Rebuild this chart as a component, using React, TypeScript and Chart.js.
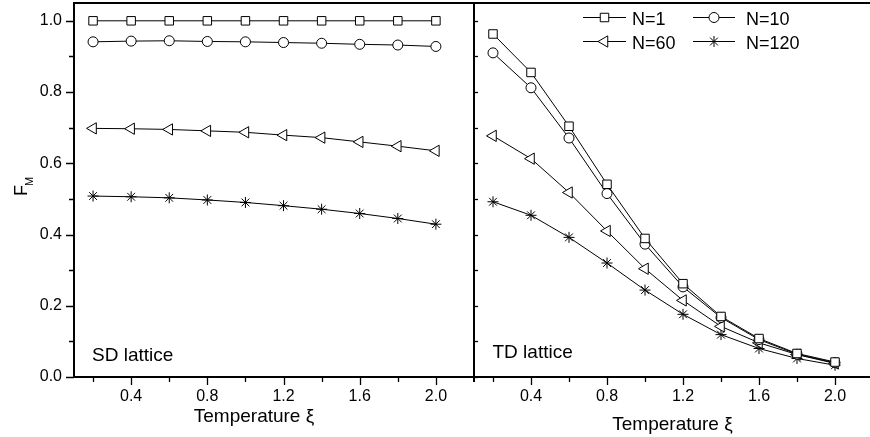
import React, { useEffect, useRef } from "react";
import { Chart, registerables } from "chart.js";
import { drawPoint } from "chart.js/helpers";

Chart.register(...registerables);

// ---------- data ----------
const temps = [0.2, 0.4, 0.6, 0.8, 1.0, 1.2, 1.4, 1.6, 1.8, 2.0];

const sdN1 = [1.0, 1.0, 1.0, 1.0, 1.0, 1.0, 1.0, 1.0, 1.0, 1.0];
const sdN10 = [0.941, 0.943, 0.944, 0.942, 0.941, 0.939, 0.937, 0.934, 0.932, 0.928];
const sdN60 = [0.698, 0.697, 0.695, 0.691, 0.687, 0.679, 0.672, 0.66, 0.648, 0.635];
const sdN120 = [0.508, 0.506, 0.503, 0.497, 0.49, 0.481, 0.471, 0.459, 0.445, 0.429];

const tdN1 = [0.963, 0.855, 0.704, 0.541, 0.389, 0.262, 0.17, 0.108, 0.066, 0.042];
const tdN10 = [0.91, 0.812, 0.671, 0.515, 0.373, 0.253, 0.167, 0.105, 0.064, 0.04];
const tdN60 = [0.677, 0.613, 0.518, 0.41, 0.304, 0.215, 0.142, 0.096, 0.063, 0.038];
const tdN120 = [0.492, 0.454, 0.392, 0.32, 0.244, 0.176, 0.119, 0.08, 0.052, 0.033];

const seriesLabels = ["N=1", "N=10", "N=60", "N=120"];

const xMajorTicks = [0.4, 0.8, 1.2, 1.6, 2.0];
const xMinorTicks = [0.2, 0.6, 1.0, 1.4, 1.8];
const yMajorTicks = [0.0, 0.2, 0.4, 0.6, 0.8, 1.0];
const yMinorTicks = [0.1, 0.3, 0.5, 0.7, 0.9];
const yAllTicks = [0.0, 0.1, 0.2, 0.3, 0.4, 0.5, 0.6, 0.7, 0.8, 0.9, 1.0];

const X_MIN = 0.1;
const X_MAX = 2.2;
const Y_MIN = 0;
const Y_MAX = 1.05;

// ---------- styles ----------
const FONT = '"Liberation Sans", Arial, Helvetica, sans-serif';
const markers = [
  { pointStyle: "rect", rotation: 0, radius: 6 },
  { pointStyle: "circle", rotation: 0, radius: 5 },
  { pointStyle: "triangle", rotation: -90, radius: 6.5 },
  { pointStyle: "star", rotation: 0, radius: 5.5 },
];

function makeDatasets(arrs: number[][]) {
  return arrs.map((arr, k) => ({
    label: seriesLabels[k],
    data: temps.map((t, i) => ({ x: t, y: arr[i] })),
    borderColor: "#000",
    borderWidth: 1,
    backgroundColor: "#fff",
    pointBackgroundColor: "#fff",
    pointBorderColor: "#000",
    pointBorderWidth: 1,
    pointStyle: markers[k].pointStyle,
    pointRotation: markers[k].rotation,
    pointRadius: markers[k].radius,
    tension: 0,
  }));
}

function line(ctx: CanvasRenderingContext2D, x1: number, y1: number, x2: number, y2: number, w: number) {
  ctx.save();
  ctx.strokeStyle = "#000";
  ctx.lineWidth = w;
  ctx.beginPath();
  ctx.moveTo(x1, y1);
  ctx.lineTo(x2, y2);
  ctx.stroke();
  ctx.restore();
}

function drawXTicks(chart: any) {
  const ctx = chart.ctx;
  const xs = chart.scales.x;
  const b = chart.chartArea.bottom;
  xMajorTicks.forEach((v) => {
    const x = Math.round(xs.getPixelForValue(v)) + 0.5;
    line(ctx, x, b, x, b + 8, 1.3);
  });
  xMinorTicks.forEach((v) => {
    const x = Math.round(xs.getPixelForValue(v)) + 0.5;
    line(ctx, x, b, x, b + 5, 1.3);
  });
}

const leftDecor = {
  id: "leftDecor",
  afterDraw(chart: any) {
    const ctx = chart.ctx as CanvasRenderingContext2D;
    const { left, right, top, bottom } = chart.chartArea;
    const ys = chart.scales.y;
    // frame
    line(ctx, left, top, chart.width, top, 2);
    line(ctx, left, top - 1, left, bottom + 1, 2);
    line(ctx, left - 1, bottom, right, bottom, 2);
    line(ctx, right, top - 1, right, bottom + 5, 2);
    // y ticks
    yMajorTicks.forEach((v) => {
      const y = Math.round(ys.getPixelForValue(v)) + 0.5;
      line(ctx, left - 8, y, left, y, 1.5);
    });
    yMinorTicks.forEach((v) => {
      const y = Math.round(ys.getPixelForValue(v)) + 0.5;
      line(ctx, left - 5, y, left, y, 1.5);
    });
    drawXTicks(chart);
    ctx.save();
    ctx.fillStyle = "#000";
    ctx.font = `19px ${FONT}`;
    ctx.textAlign = "left";
    ctx.textBaseline = "alphabetic";
    ctx.fillText("SD lattice", 92, 360.5);
    ctx.textAlign = "center";
    ctx.fillText("Temperature ξ", 254, 421.5);
    // F_M
    ctx.save();
    ctx.translate(27, 196);
    ctx.rotate(-Math.PI / 2);
    ctx.textAlign = "left";
    ctx.font = `18px ${FONT}`;
    ctx.fillText("F", 0, 0);
    const fw = ctx.measureText("F").width;
    ctx.font = `11px ${FONT}`;
    ctx.fillText("M", fw - 1, 6);
    ctx.restore();
    ctx.restore();
  },
};

const rightDecor = {
  id: "rightDecor",
  afterDraw(chart: any) {
    const ctx = chart.ctx as CanvasRenderingContext2D;
    const { left, top, bottom } = chart.chartArea;
    const ys = chart.scales.y;
    line(ctx, 0, top, chart.width, top, 2);
    line(ctx, 0, bottom, chart.width, bottom, 2);
    // inner y ticks on the shared divider
    yAllTicks.forEach((v) => {
      const y = Math.round(ys.getPixelForValue(v)) + 0.5;
      line(ctx, left, y, left + 4, y, 1.3);
    });
    drawXTicks(chart);
    ctx.save();
    ctx.fillStyle = "#000";
    ctx.font = `19px ${FONT}`;
    ctx.textAlign = "left";
    ctx.textBaseline = "alphabetic";
    ctx.fillText("TD lattice", 18.5, 357.5);
    ctx.textAlign = "center";
    ctx.fillText("Temperature ξ", 198.5, 430);
    // legend
    const off = 474;
    const items = [
      { k: 0, x1: 583, x2: 626, tx: 632, y: 17.5, by: 24.5 },
      { k: 1, x1: 693, x2: 735, tx: 746, y: 17.5, by: 24.5 },
      { k: 2, x1: 583, x2: 626, tx: 632, y: 41.5, by: 48.5 },
      { k: 3, x1: 693, x2: 735, tx: 746, y: 41.5, by: 48.5 },
    ];
    ctx.font = `18px ${FONT}`;
    ctx.textAlign = "left";
    items.forEach((it) => {
      line(ctx, it.x1 - off, it.y, it.x2 - off, it.y, 1);
      ctx.save();
      ctx.fillStyle = "#fff";
      ctx.strokeStyle = "#000";
      ctx.lineWidth = 1;
      const m = markers[it.k];
      drawPoint(ctx, { pointStyle: m.pointStyle as any, rotation: m.rotation, radius: m.radius, borderWidth: 1 }, (it.x1 + it.x2) / 2 - off, it.y);
      ctx.restore();
      ctx.fillStyle = "#000";
      ctx.fillText(seriesLabels[it.k], it.tx - off, it.by);
    });
    ctx.restore();
  },
};

function baseOptions(showY: boolean, padRight: number) {
  return {
    responsive: false,
    animation: false as const,
    devicePixelRatio: 1,
    layout: { autoPadding: false, padding: { top: 3, right: padRight, left: 0, bottom: 0 } },
    plugins: { legend: { display: false }, tooltip: { enabled: false }, title: { display: false } },
    scales: {
      x: {
        type: "linear" as const,
        min: X_MIN,
        max: X_MAX,
        grid: { display: false, drawTicks: false, tickLength: 0 },
        border: { display: false },
        ticks: {
          color: "#000",
          font: { family: FONT, size: 16 },
          padding: 10,
          maxRotation: 0,
          callback: (v: any) => Number(v).toFixed(1),
        },
        afterBuildTicks: (s: any) => {
          s.ticks = xMajorTicks.map((v) => ({ value: v }));
        },
        afterFit: (s: any) => {
          s.height = 60;
          s.paddingLeft = 0;
          s.paddingRight = 0;
        },
      },
      y: {
        type: "linear" as const,
        display: showY,
        min: Y_MIN,
        max: Y_MAX,
        grid: { display: false, drawTicks: false, tickLength: 0 },
        border: { display: false },
        ticks: {
          color: "#000",
          font: { family: FONT, size: 16 },
          padding: 12,
          callback: (v: any) => Number(v).toFixed(1),
        },
        afterBuildTicks: (s: any) => {
          s.ticks = yMajorTicks.map((v) => ({ value: v }));
        },
        afterFit: (s: any) => {
          s.width = showY ? 74 : 0;
          s.paddingTop = 0;
          s.paddingBottom = 0;
        },
      },
    },
  };
}

export default function App() {
  const leftRef = useRef<HTMLCanvasElement>(null);
  const rightRef = useRef<HTMLCanvasElement>(null);

  useEffect(() => {
    const c1 = new Chart(leftRef.current as HTMLCanvasElement, {
      type: "line",
      data: { datasets: makeDatasets([sdN1, sdN10, sdN60, sdN120]) as any },
      options: baseOptions(true, 2) as any,
      plugins: [leftDecor],
    });
    const c2 = new Chart(rightRef.current as HTMLCanvasElement, {
      type: "line",
      data: { datasets: makeDatasets([tdN1, tdN10, tdN60, tdN120]) as any },
      options: baseOptions(false, 0) as any,
      plugins: [rightDecor],
    });
    return () => {
      c1.destroy();
      c2.destroy();
    };
  }, []);

  return (
    <div
      style={{
        position: "fixed",
        left: 0,
        top: 0,
        width: 870,
        height: 437,
        overflow: "hidden",
        background: "#fff",
      }}
    >
      <canvas
        ref={leftRef}
        width={476}
        height={437}
        style={{ position: "absolute", left: 0, top: 0, width: 476, height: 437 }}
      />
      <canvas
        ref={rightRef}
        width={399}
        height={437}
        style={{ position: "absolute", left: 474, top: 0, width: 399, height: 437 }}
      />
    </div>
  );
}
